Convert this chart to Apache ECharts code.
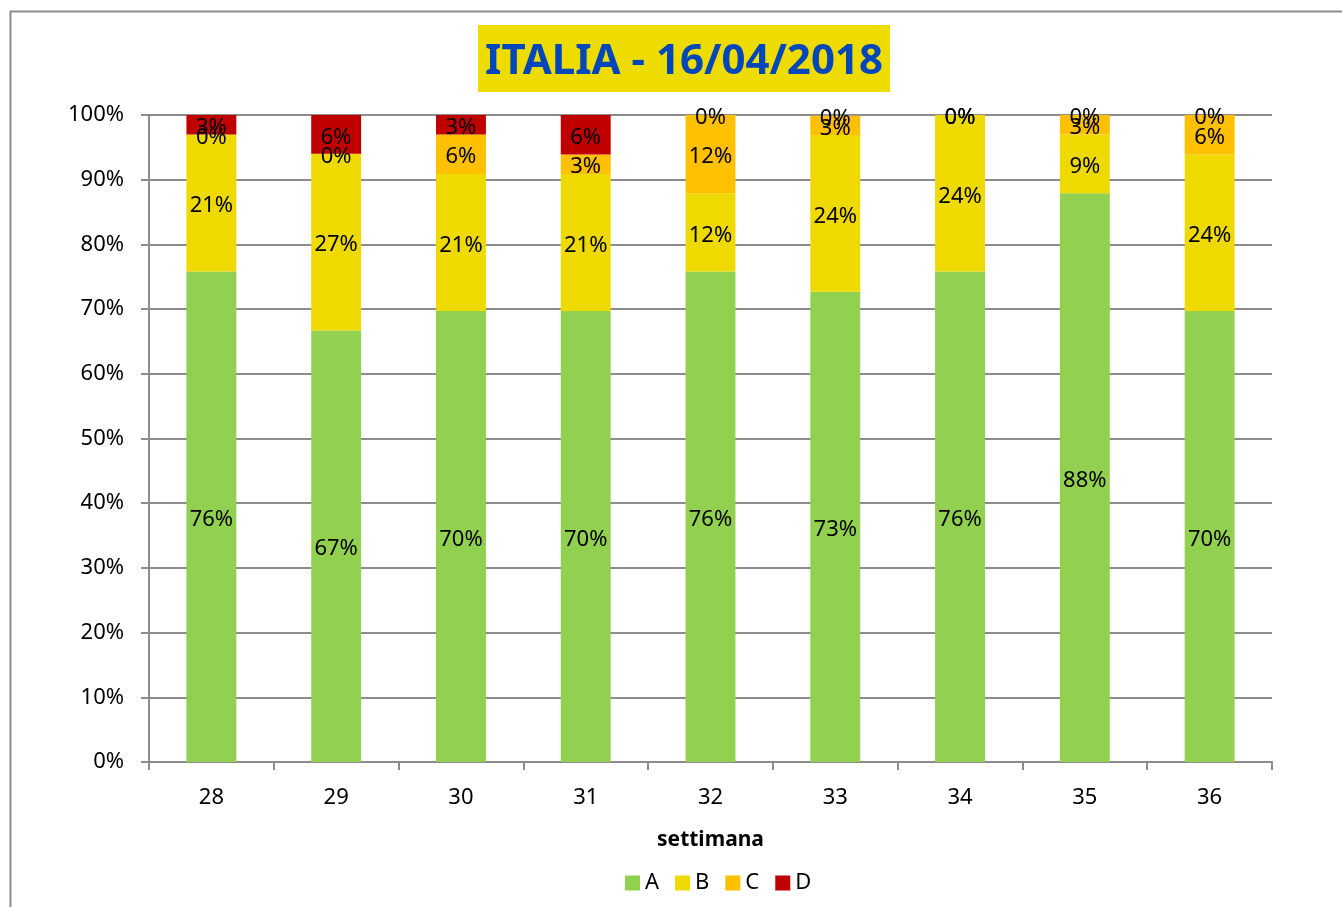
<!DOCTYPE html>
<html lang="it" style="height: 100%">
<head>
  <meta charset="utf-8">
</head>
<body style="height: 100%; margin: 0">
  <div id="container" style="height: 100%"></div>

  <script type="text/javascript" src="https://cdn.jsdelivr.net/npm/echarts@6/dist/echarts.min.js"></script>

  <script type="text/javascript">
    var dom = document.getElementById('container');
    var myChart = echarts.init(dom, null, {
      renderer: 'canvas',
      useDirtyRect: false
    });

    // settimane
    var weeks = ['28', '29', '30', '31', '32', '33', '34', '35', '36'];
    // quote percentuali per classe
    var valuesA = [75.8, 66.7, 69.7, 69.7, 75.8, 72.7, 75.8, 87.9, 69.7];
    var valuesB = [21.2, 27.3, 21.2, 21.2, 12.1, 24.2, 24.2, 9.1, 24.2];
    var valuesC = [0, 0, 6.1, 3.0, 12.1, 3.0, 0, 3.0, 6.1];
    var valuesD = [3.0, 6.1, 3.0, 6.1, 0, 0, 0, 0, 0];
    var yTicks = [0, 10, 20, 30, 40, 50, 60, 70, 80, 90, 100];

    var font = 'Noto Sans';
    var colors = ['#92D050', '#EEDA00', '#FFC000', '#C00000'];

    function serie(name, data) {
      return {
        name: name,
        type: 'bar',
        stack: 'tot',
        barWidth: '40%',
        data: data,
        label: {
          show: true,
          position: 'inside',
          offset: [0, 3],
          color: '#000',
          fontFamily: font,
          fontSize: 22,
          formatter: function (p) {
            return Math.round(p.value) + '%';
          }
        }
      };
    }

    var option = {
      animation: false,
      color: colors,
      graphic: [
        {
          type: 'rect',
          left: 8,
          top: 9,
          shape: { width: 1500, height: 1000 },
          style: { fill: 'none', stroke: '#8c8c8c', lineWidth: 2 },
          silent: true
        },
        {
          type: 'group',
          left: 478,
          top: 25,
          children: [
            {
              type: 'rect',
              shape: { width: 412, height: 67 },
              style: { fill: '#EEDC00' }
            },
            {
              type: 'text',
              x: 206,
              y: 37,
              style: {
                text: 'ITALIA - 16/04/2018',
                fill: '#0047BB',
                font: 'bold 42px "Noto Sans"',
                align: 'center',
                verticalAlign: 'middle'
              }
            }
          ]
        }
      ],
      legend: {
        bottom: 8,
        left: 620,
        itemWidth: 15,
        itemHeight: 15,
        itemGap: 16,
        icon: 'rect',
        textStyle: { fontFamily: font, fontSize: 22, color: '#000' },
        data: ['A', 'B', 'C', 'D']
      },
      grid: {
        left: 149,
        right: 70,
        top: 115,
        bottom: 145
      },
      xAxis: {
        type: 'category',
        data: weeks,
        name: 'settimana',
        nameLocation: 'middle',
        nameGap: 68,
        nameTextStyle: { fontFamily: font, fontSize: 21, fontWeight: 'bold', color: '#000' },
        axisLine: { lineStyle: { color: '#8c8c8c', width: 2 } },
        axisTick: { show: true, length: 8, lineStyle: { color: '#8c8c8c', width: 2 } },
        axisLabel: { fontFamily: font, fontSize: 22, color: '#000', margin: 25 }
      },
      yAxis: {
        type: 'value',
        min: yTicks[0],
        max: yTicks[yTicks.length - 1],
        interval: 10,
        axisLine: { show: true, lineStyle: { color: '#8c8c8c', width: 2 } },
        axisTick: { show: true, length: 8, lineStyle: { color: '#8c8c8c', width: 2 } },
        splitLine: { lineStyle: { color: '#8c8c8c', width: 2 } },
        axisLabel: {
          fontFamily: font,
          fontSize: 22,
          color: '#000',
          margin: 25,
          padding: [5, 0, 0, 0],
          formatter: '{value}%'
        }
      },
      series: [
        serie('A', valuesA),
        serie('B', valuesB),
        serie('C', valuesC),
        serie('D', valuesD)
      ]
    };

    myChart.setOption(option);

    window.addEventListener('resize', myChart.resize);
  </script>
</body>
</html>
